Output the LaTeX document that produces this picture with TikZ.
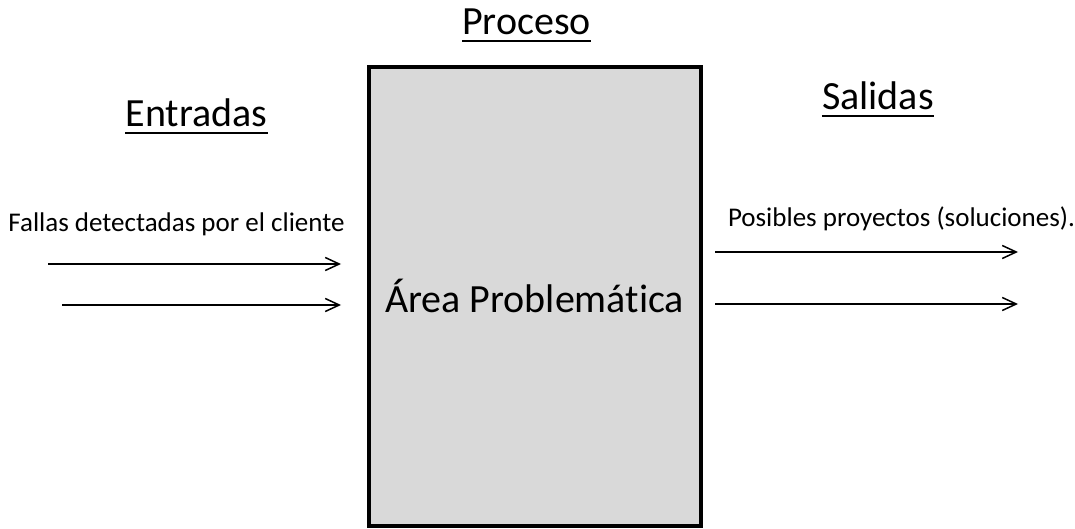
\documentclass[tikz,border=0pt]{standalone}
\usepackage{fontspec}
\setmainfont{Carlito}[Ligatures=NoCommon]
\usetikzlibrary{arrows.meta}
\definecolor{boxgray}{HTML}{D9D9D9}
\tikzset{
  header/.style={anchor=base, inner sep=0pt, font=\fontsize{40}{48}\selectfont},
  label/.style={anchor=base, inner sep=0pt, font=\fontsize{27}{32}\selectfont},
  rule/.style={line width=2.5pt},
  flow/.style={line width=1.5pt, -{Straight Barb[length=14pt,width=13pt,line width=1.5pt]}},
  process/.style={draw, line width=4pt, fill=boxgray},
}
\begin{document}
\begin{tikzpicture}[x=1pt,y=-1pt]
\useasboundingbox (0,0) rectangle (1075,529);
% process box
\draw[process] (369,67) rectangle (701,526);
\node[anchor=base, inner sep=0pt, font=\fontsize{40}{48}\selectfont] (area) at (534.5,312) {Área Problemática};
% headers, each with its underline
\node[header] (proceso) at (526.5,35) {Proceso};
\node[header] (entradas) at (196.5,127) {Entradas};
\node[header] (salidas) at (878,110) {Salidas};
\draw[rule] ([yshift=-6pt]proceso.base west) -- ([yshift=-6pt]proceso.base east);
\draw[rule] ([yshift=-6pt]entradas.base west) -- ([yshift=-6pt]entradas.base east);
\draw[rule] ([yshift=-6pt]salidas.base west) -- ([yshift=-6pt]salidas.base east);
% labels
\node[label] (fallas) at (176.5,232) {Fallas detectadas por el cliente};
\node[label] (posibles) at (901.5,227) {Posibles proyectos (soluciones).};
% input arrows
\coordinate (in1s) at (48,264);
\coordinate (in1e) at (341,264);
\coordinate (in2s) at (62,305);
\coordinate (in2e) at (341,305);
\draw[flow] (in1s) -- (in1e);
\draw[flow] (in2s) -- (in2e);
% output arrows
\coordinate (out1s) at (715,252);
\coordinate (out1e) at (1018,252);
\coordinate (out2s) at (715,304);
\coordinate (out2e) at (1018,304);
\draw[flow] (out1s) -- (out1e);
\draw[flow] (out2s) -- (out2e);
\end{tikzpicture}
\end{document}
